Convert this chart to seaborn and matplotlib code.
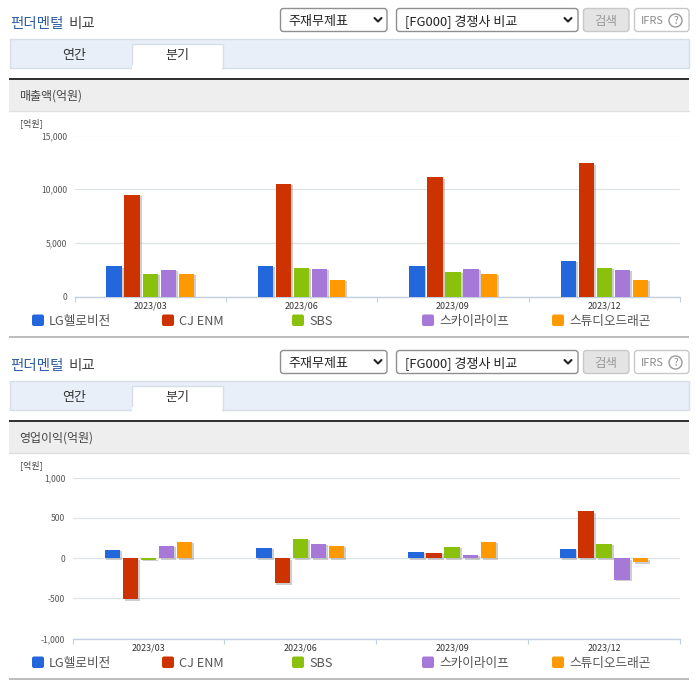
import pandas as pd
import matplotlib
matplotlib.use("Agg")
import matplotlib.pyplot as plt
from matplotlib.patches import Rectangle, FancyBboxPatch, Circle
from matplotlib import patheffects as pe
import seaborn as sns

sns.set_theme(style="white")
plt.rcParams['font.family'] = ['Noto Sans CJK KR', 'DejaVu Sans']

W = 696
H = 684

quarters = ["2023/03", "2023/06", "2023/09", "2023/12"]
companies = ["LG헬로비전", "CJ ENM", "SBS", "스카이라이프", "스튜디오드래곤"]
colors = ["#2268dc", "#cc3300", "#8ac10c", "#a678d8", "#ff9900"]

sales_lg = [2800, 2860, 2860, 3330]
sales_cj = [9500, 10500, 11100, 12430]
sales_sbs = [2100, 2670, 2300, 2670]
sales_sky = [2480, 2580, 2580, 2480]
sales_dragon = [2100, 1540, 2100, 1540]

profit_lg = [104, 130, 80, 117]
profit_cj = [-512, -312, 67, 580]
profit_sbs = [-20, 242, 142, 180]
profit_sky = [154, 180, 42, -271]
profit_dragon = [204, 154, 204, -50]

sales_ticks = [0, 5000, 10000, 15000]
profit_ticks = [-1000, -500, 0, 500, 1000]


def long_table(series):
    rows = []
    for name, vals in zip(companies, series):
        for q, v in zip(quarters, vals):
            rows.append({"quarter": q, "company": name, "value": v})
    return pd.DataFrame(rows)


def px(size):
    # css pixel -> points at dpi 100
    return size * 0.72


fig = plt.figure(figsize=(W / 100, H / 100), dpi=100, facecolor="white")

# overlay in pixel coordinates for the page furniture
ui = fig.add_axes([0, 0, 1, 1], zorder=0)
ui.set_xlim(0, W)
ui.set_ylim(H, 0)
ui.axis("off")


def box(x0, y0, x1, y1, face, edge, lw=1, round_px=0):
    if round_px:
        p = FancyBboxPatch((x0, y0), x1 - x0, y1 - y0, boxstyle="round,pad=0,rounding_size=%s" % round_px,
                           fc=face, ec=edge, lw=lw)
    else:
        p = Rectangle((x0, y0), x1 - x0, y1 - y0, fc=face, ec=edge, lw=lw)
    ui.add_patch(p)


def chevron(x, y):
    ui.plot([x - 3.5, x, x + 3.5], [y - 2, y + 1.5, y - 2], color="#222222", lw=1.5)


def panel(dy, heading):
    ui.text(10, 28 + dy, "펀더멘털", color="#2f5da6", fontsize=px(14.5), fontweight="medium", va="baseline")
    ui.text(69, 28 + dy, "비교", color="#444444", fontsize=px(14.5), fontweight="medium", va="baseline")
    box(280.5, 8.5 + dy, 387, 31.5 + dy, "white", "#8f8f8f", round_px=3)
    ui.text(288, 25 + dy, "주재무제표", color="#222222", fontsize=px(13), va="baseline")
    chevron(378, 20 + dy)
    box(396.5, 8.5 + dy, 578, 31.5 + dy, "white", "#8f8f8f", round_px=3)
    ui.text(405, 25 + dy, "[FG000] 경쟁사 비교", color="#222222", fontsize=px(13), va="baseline")
    chevron(568, 20 + dy)
    box(583.5, 8.5 + dy, 629, 31.5 + dy, "#e4e4e4", "#c8c8c8", round_px=3)
    ui.text(606, 24.5 + dy, "검색", color="#9a9a9a", fontsize=px(12.5), ha="center", va="baseline")
    box(634.5, 8.5 + dy, 689, 31.5 + dy, "white", "#c8c8c8", round_px=3)
    ui.text(641, 24.5 + dy, "IFRS", color="#8a8a8a", fontsize=px(11), va="baseline")
    ui.add_patch(Circle((675.5, 20.5 + dy), 6.5, fc="white", ec="#9a9a9a", lw=1))
    ui.text(675.5, 24 + dy, "?", color="#8a8a8a", fontsize=px(10), ha="center", va="baseline")

    box(9.5, 38.5 + dy, 689, 67.5 + dy, "#e8eff8", "#d6deea")
    box(131.5, 43.5 + dy, 222.5, 68 + dy, "white", "#d6deea")
    ui.add_patch(Rectangle((132, 65 + dy), 90, 4.5, fc="white", ec="none", zorder=5))
    ui.text(74, 59.5 + dy, "연간", color="#333333", fontsize=px(13), ha="center", va="baseline")
    ui.text(177, 59.5 + dy, "분기", color="#333333", fontsize=px(13), ha="center", va="baseline")

    ui.add_patch(Rectangle((9, 80 + dy), 680, 30.5, fc="#eeeeee", ec="none"))
    ui.plot([9, 689], [110.5 + dy, 110.5 + dy], color="#e0e0e0", lw=1)
    ui.add_patch(Rectangle((9, 78 + dy), 680, 2, fc="#333333", ec="none"))
    ui.text(19, 100 + dy, heading, color="#444444", fontsize=px(12), va="baseline")
    ui.text(20, 126 + dy, "[억원]", color="#444444", fontsize=px(9), va="baseline")

    legend_sq = [32, 162, 292, 422, 552]
    for sq, name, c in zip(legend_sq, companies, colors):
        box(sq, 314.5 + dy, sq + 12, 326 + dy, c, c, lw=0, round_px=2)
        ui.text(sq + 17, 325 + dy, name, color="#555555", fontsize=px(12.7), va="baseline")
    ui.add_patch(Rectangle((9, 335.7 + dy), 680, 2, fc="#bdbdbd", ec="none"))


def chart(series, ticks, left, top_px, bottom_px):
    right = 680
    ax = fig.add_axes([left / W, 1 - bottom_px / H, (right - left) / W, (bottom_px - top_px) / H], zorder=2)
    ax.patch.set_alpha(0)
    sns.barplot(data=long_table(series), x="quarter", y="value", hue="company", palette=colors,
                hue_order=companies, order=quarters, width=0.596, gap=0.15, saturation=1,
                legend=False, ax=ax)
    for bar in ax.patches:
        bar.set_linewidth(0)
        bar.set_zorder(3)
        bar.set_path_effects([pe.SimplePatchShadow(offset=(1.4, -1.1), shadow_rgbFace="#8c8c8c", alpha=0.42),
                              pe.Normal()])
    ax.set_xlim(-0.5, 3.5)
    ax.set_ylim(ticks[0], ticks[-1])
    ax.set_xlabel("")
    ax.set_ylabel("")
    ax.set_yticks(ticks)
    ax.set_yticklabels([format(t, ",") for t in ticks])
    ax.set_xticks([-0.5, 0.5, 1.5, 2.5, 3.5], minor=True)
    ax.tick_params(axis="x", which="minor", length=3.6, width=0.8, color="#c4d0e0", bottom=True)
    ax.tick_params(axis="x", which="major", length=0, pad=3.8, labelsize=px(9), labelcolor="#333333")
    ax.tick_params(axis="y", length=0, pad=5.2, labelsize=px(8.6), labelcolor="#555555")
    ax.grid(axis="y", color="#dfe2e6", lw=0.9)
    ax.set_axisbelow(True)
    for s in ["top", "left", "right"]:
        ax.spines[s].set_visible(False)
    ax.spines["bottom"].set_color("#c4d0e0")
    ax.spines["bottom"].set_linewidth(1)
    return ax


panel(0, "매출액(억원)")
panel(342, "영업이익(억원)")

chart([sales_lg, sales_cj, sales_sbs, sales_sky, sales_dragon], sales_ticks, 74.5, 135.5, 296.5)
chart([profit_lg, profit_cj, profit_sbs, profit_sky, profit_dragon], profit_ticks, 72.5, 477.5, 638.5)

fig.savefig("out.png", dpi=100, facecolor="white")
